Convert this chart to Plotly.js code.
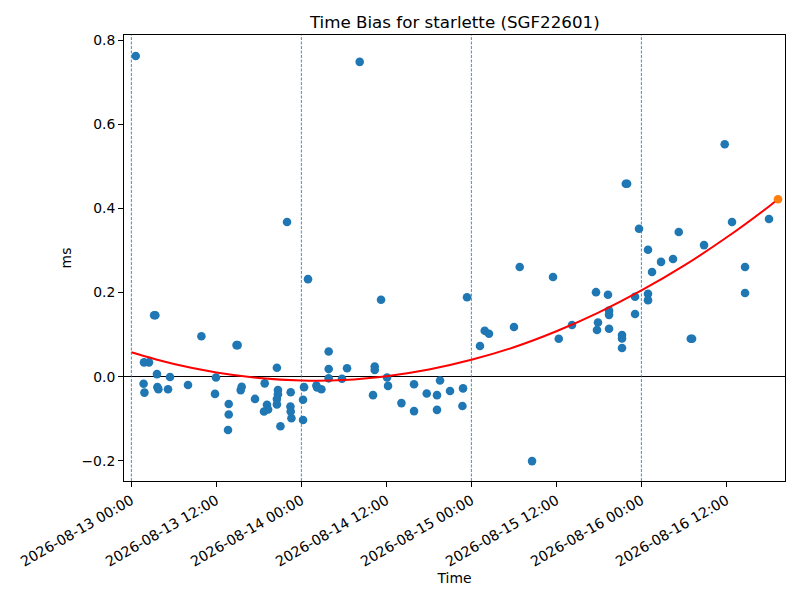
<!DOCTYPE html>
<html>
<head>
<meta charset="utf-8">
<script src="https://cdn.plot.ly/plotly-3.0.1.min.js"></script>
<style>
  html, body { margin: 0; padding: 0; background: #fff; }
  #chart { width: 800px; height: 600px; }
</style>
</head>
<body>
<div id="chart"></div>
<script>
(function() {
  'use strict';

  // measurement times, hours after 2026-08-13 00:00
  var sampleHours = [
    0.61, 1.78, 2.48, 1.72, 1.84, 3.21, 3.38, 3.61, 3.67, 3.81,
    5.17, 5.45, 7.99, 9.88, 11.80, 11.94, 13.64, 13.74, 13.74, 14.84,
    15.00, 15.43, 15.57, 17.45, 18.82, 18.72, 19.14, 19.30, 20.54, 20.69,
    20.69, 20.54, 20.54, 21.04, 21.97, 22.49, 22.45, 22.49, 22.59, 24.23,
    24.23, 24.37, 24.93, 26.12, 26.21, 26.82, 27.85, 27.85, 27.85, 29.73,
    30.44, 32.23, 34.11, 34.35, 34.35, 35.24, 36.09, 36.23, 38.12, 39.90,
    39.90, 41.69, 43.14, 43.14, 43.57, 44.98, 46.73, 46.82, 47.38, 49.21,
    49.88, 50.48, 54.01, 54.82, 56.56, 59.52, 60.33, 62.20, 65.59, 65.73,
    65.87, 67.28, 67.43, 67.43, 67.43, 69.26, 69.26, 69.26, 69.80, 69.98,
    71.10, 71.10, 71.66, 72.93, 72.93, 72.93, 73.50, 74.77, 76.46, 77.27,
    78.97, 79.15, 80.84, 83.76, 84.79, 86.63, 86.63, 90.01
  ];
  var sampleBias = [
    0.763, 0.034, 0.034, -0.017, -0.038, 0.146, 0.146, 0.006, -0.025, -0.030,
    -0.030, -0.001, -0.020, 0.096, -0.041, -0.002, -0.127, -0.065, -0.090, 0.075,
    0.075, -0.032, -0.024, -0.053, -0.016, -0.083, -0.067, -0.078, 0.021, -0.032,
    -0.042, -0.053, -0.066, -0.118, 0.368, -0.037, -0.071, -0.083, -0.099, -0.103,
    -0.055, -0.025, 0.232, -0.021, -0.026, -0.030, 0.060, 0.018, -0.004, -0.005,
    0.020, 0.749, -0.044, 0.024, 0.016, 0.183, -0.002, -0.022, -0.063, -0.018,
    -0.082, -0.040, -0.044, -0.079, -0.009, -0.034, -0.070, -0.028, 0.189, 0.073,
    0.109, 0.102, 0.118, 0.261, -0.201, 0.237, 0.090, 0.123, 0.201, 0.111,
    0.129, 0.195, 0.157, 0.147, 0.114, 0.099, 0.091, 0.068, 0.459, 0.459,
    0.190, 0.149, 0.352, 0.302, 0.197, 0.182, 0.249, 0.273, 0.280, 0.344,
    0.090, 0.090, 0.313, 0.553, 0.368, 0.261, 0.199, 0.375
  ];

  // quadratic fit
  var fitHours = [0, 6, 12, 18, 24, 30, 36, 42, 48, 54, 60, 66, 72, 78, 84, 90, 91.28];
  var fitBias = [0.058, 0.030, 0.010, -0.003, -0.009, -0.008, 0.001, 0.017, 0.040,
                 0.070, 0.108, 0.153, 0.205, 0.264, 0.331, 0.405, 0.422];

  // latest predicted point (orange)
  var lastHours = [91.28];
  var lastBias = [0.422];

  var dayLines = ['2026-08-13 00:00', '2026-08-14 00:00', '2026-08-15 00:00', '2026-08-16 00:00'];

  var base = Date.UTC(2026, 7, 13);
  function toDate(h) {
    return new Date(base + h * 3600000).toISOString().slice(0, 19).replace('T', ' ');
  }

  var font = 'DejaVu Sans, sans-serif';

  var data = [
    {
      x: sampleHours.map(toDate), y: sampleBias,
      type: 'scatter', mode: 'markers',
      marker: { color: '#1f77b4', size: 8.6, line: { width: 0 } },
      hoverinfo: 'x+y'
    },
    {
      x: fitHours.map(toDate), y: fitBias,
      type: 'scatter', mode: 'lines',
      line: { color: '#ff0000', width: 2, shape: 'spline' },
      hoverinfo: 'skip'
    },
    {
      x: lastHours.map(toDate), y: lastBias,
      type: 'scatter', mode: 'markers',
      marker: { color: '#ff7f0e', size: 8.6, line: { width: 0 } },
      hoverinfo: 'x+y'
    }
  ];

  var layout = {
    width: 800, height: 600,
    paper_bgcolor: '#fff', plot_bgcolor: '#fff',
    showlegend: false,
    margin: { l: 124, r: 15, t: 35, b: 119 },
    font: { family: font, color: '#000', size: 13.9 },
    title: {
      text: 'Time Bias for starlette (SGF22601)',
      font: { family: font, size: 16.7, color: '#000' },
      x: 0.5685, xref: 'container', xanchor: 'center',
      y: 0.963, yref: 'container', yanchor: 'middle'
    },
    xaxis: {
      type: 'date',
      range: [toDate(-1.045), toDate(92.27)],
      dtick: 12 * 3600000,
      tick0: '2026-08-13 00:00',
      tickformat: '%Y-%m-%d %H:%M',
      tickangle: -30,
      ticks: 'outside', ticklen: 5, tickwidth: 1, tickcolor: '#000',
      showline: true, mirror: true, linecolor: '#000', linewidth: 1,
      showgrid: false, zeroline: false,
      tickfont: { family: font, size: 14.2, color: '#000' },
      title: { text: 'Time', font: { family: font, size: 13.9, color: '#000' }, standoff: 4 }
    },
    yaxis: {
      range: [-0.2483, 0.8129],
      dtick: 0.2, tick0: 0,
      tickformat: '.1f',
      ticks: 'outside', ticklen: 5, tickwidth: 1, tickcolor: '#000',
      showline: true, mirror: true, linecolor: '#000', linewidth: 1,
      showgrid: false,
      zeroline: true, zerolinecolor: '#000', zerolinewidth: 1,
      tickfont: { family: font, size: 13.9, color: '#000' },
      title: { text: 'ms', font: { family: font, size: 13.9, color: '#000' }, standoff: 6 }
    },
    shapes: dayLines.map(function(d) {
      return {
        type: 'line', xref: 'x', yref: 'paper',
        x0: d, x1: d, y0: 0, y1: 1,
        line: { color: '#1f77b4', width: 1.1, dash: '3px,1.5px' },
        opacity: 0.75,
        layer: 'above'
      };
    })
  };

  Plotly.newPlot('chart', data, layout, { displayModeBar: false, staticPlot: true });
})();
</script>
</body>
</html>
